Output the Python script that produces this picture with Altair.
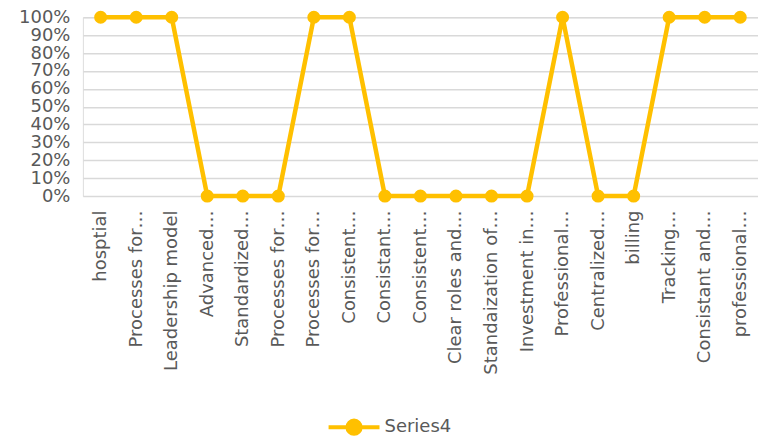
import json
import altair as alt
import pandas as pd

categories = [
    "hosptial", "Processes for…", "Leadership model", "Advanced…", "Standardized…",
    "Processes for…", "Processes for…", "Consistent…", "Consistant…", "Consistent…",
    "Clear roles and…", "Standaization of…", "Investment in…", "Professional…",
    "Centralized…", "billing", "Tracking…", "Consistant and…", "professional…",
]
values = [1, 1, 1, 0, 0, 0, 1, 1, 0, 0, 0, 0, 0, 1, 0, 0, 1, 1, 1]
series_name = "Series4"
y_ticks = [0, 0.1, 0.2, 0.3, 0.4, 0.5, 0.6, 0.7, 0.8, 0.9, 1.0]

df = pd.DataFrame({
    "idx": list(range(len(categories))),
    "label": categories,
    "value": values,
    "series": [series_name] * len(categories),
})

label_expr = json.dumps(categories, ensure_ascii=False) + "[datum.value]"
FONT = "DejaVu Sans"
GRAY = "#595959"
GOLD = "#FFC000"

base = alt.Chart(df).encode(
    x=alt.X(
        "idx:O",
        title=None,
        scale=alt.Scale(padding=0.5),
        axis=alt.Axis(
            labelExpr=label_expr,
            labelAngle=270,
            labelAlign="right",
            labelBaseline="middle",
            labelPadding=14,
            labelFontSize=18,
            labelColor=GRAY,
            labelFont=FONT,
            labelLimit=300,
            labelOverlap=False,
            domain=False,
            ticks=False,
            grid=False,
        ),
    ),
    y=alt.Y(
        "value:Q",
        title=None,
        scale=alt.Scale(domain=[0, 1], nice=False),
        axis=alt.Axis(
            values=y_ticks,
            format=".0%",
            labelFontSize=18,
            labelColor=GRAY,
            labelFont=FONT,
            labelPadding=13,
            labelOverlap=False,
            domain=False,
            ticks=False,
            grid=True,
            gridColor="#d9d9d9",
            gridWidth=1.5,
        ),
    ),
    color=alt.Color(
        "series:N",
        scale=alt.Scale(range=[GOLD]),
        legend=alt.Legend(
            title=None,
            orient="none",
            legendX=244,
            legendY=383,
            symbolType="M-1,0H1M0.26,0A0.26,0.26 0 1,1 -0.26,0A0.26,0.26 0 1,1 0.26,0Z",
            symbolSize=2600,
            symbolStrokeWidth=4,
            symbolFillColor=GOLD,
            symbolStrokeColor=GOLD,
            labelFontSize=18,
            labelFont=FONT,
            labelColor=GRAY,
            labelOffset=3,
        ),
    ),
)

line = base.mark_line(strokeWidth=4.5)
pts = base.mark_point(filled=True, size=170, opacity=1)

chart = (
    alt.layer(line, pts)
    .properties(
        width=676,
        height=179,
        autosize=alt.AutoSizeParams(type="none"),
        padding={"left": 83, "top": 17, "right": 0, "bottom": 241},
    )
    .configure_view(stroke=None)
    .configure(background="white")
)

chart.save("out.html", embed_options={"renderer": "svg", "actions": False})
